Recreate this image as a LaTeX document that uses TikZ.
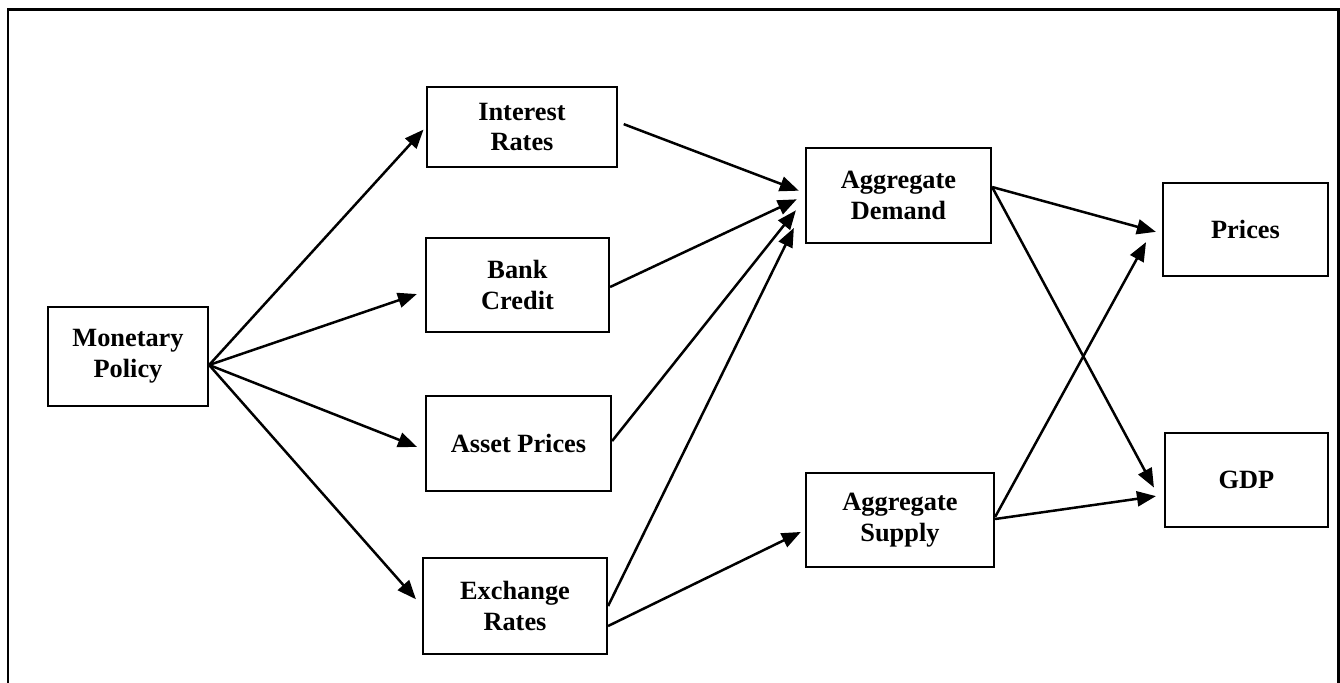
\documentclass[tikz,border=0pt]{standalone}
\usepackage{fontspec}
\setmainfont{Liberation Serif}
\usetikzlibrary{arrows.meta}

\begin{document}
\begin{tikzpicture}[
    x=0.02cm, y=-0.02cm,
    font=\fontsize{15}{17.6}\selectfont\bfseries,
    box/.style={rectangle, draw, line width=0.045cm, align=center, inner sep=2pt},
    arrow/.style={-{Triangle[length=0.38cm, width=0.3cm]}, line width=0.05cm}
]
\useasboundingbox (0,0) rectangle (1340,683);
\draw[line width=0.06cm] (8,9) rectangle (1338,720);

\node[box, minimum width=3.2cm, minimum height=1.98cm] (policy) at (128,356.5) {Monetary\\Policy};
\node[box, minimum width=3.8cm, minimum height=1.6cm] (rates) at (522,127) {Interest\\Rates};
\node[box, minimum width=3.66cm, minimum height=1.88cm] (credit) at (517.5,285) {Bank\\Credit};
\node[box, minimum width=3.7cm, minimum height=1.9cm] (assets) at (518.5,443.5) {Asset Prices};
\node[box, minimum width=3.68cm, minimum height=1.92cm] (exchange) at (515,606) {Exchange\\Rates};
\node[box, minimum width=3.7cm, minimum height=1.9cm] (demand) at (898.5,195.5) {Aggregate\\Demand};
\node[box, minimum width=3.76cm, minimum height=1.88cm] (supply) at (900,520) {Aggregate\\Supply};
\node[box, minimum width=3.3cm, minimum height=1.86cm] (prices) at (1245.5,229.5) {Prices};
\node[box, minimum width=3.26cm, minimum height=1.88cm] (gdp) at (1246.5,480) {GDP};

\coordinate (fan) at ([yshift=-0.17cm]policy.east);

\draw[arrow, shorten >=0.07cm] (fan) -- (rates.west);
\draw[arrow, shorten >=0.17cm] (fan) -- ([yshift=-0.126cm]credit.west);
\draw[arrow, shorten >=0.17cm] (fan) -- ([yshift=-0.13cm]assets.west);
\draw[arrow, shorten >=0.18cm] (fan) -- (exchange.west);

\draw[arrow, shorten <=0.12cm, shorten >=0.13cm] ([yshift=0.1cm]rates.east) -- ([yshift=0.05cm]demand.west);
\draw[arrow, shorten >=0.18cm] ([yshift=-0.04cm]credit.east) -- (demand.west);
\draw[arrow, shorten >=0.29cm] ([yshift=0.05cm]assets.east) -- ([yshift=-0.07cm]demand.west);
\draw[arrow, shorten >=0.5cm] (exchange.east) -- ([yshift=-0.2cm]demand.west);
\draw[arrow, shorten >=0.09cm] ([yshift=-0.4cm]exchange.east) -- ([yshift=-0.2cm]supply.west);

\draw[arrow, shorten >=0.125cm] ([yshift=0.17cm]demand.east) -- ([yshift=-0.08cm]prices.west);
\draw[arrow, shorten >=0.42cm] ([yshift=0.17cm]demand.east) -- ([yshift=-0.52cm]gdp.west);
\draw[arrow, shorten >=0.66cm] ([yshift=0.06cm]supply.east) -- ([yshift=0.326cm]prices.west);
\draw[arrow, shorten >=0.16cm] ([yshift=0.02cm]supply.east) -- ([yshift=-0.3cm]gdp.west);
\end{tikzpicture}
\end{document}
